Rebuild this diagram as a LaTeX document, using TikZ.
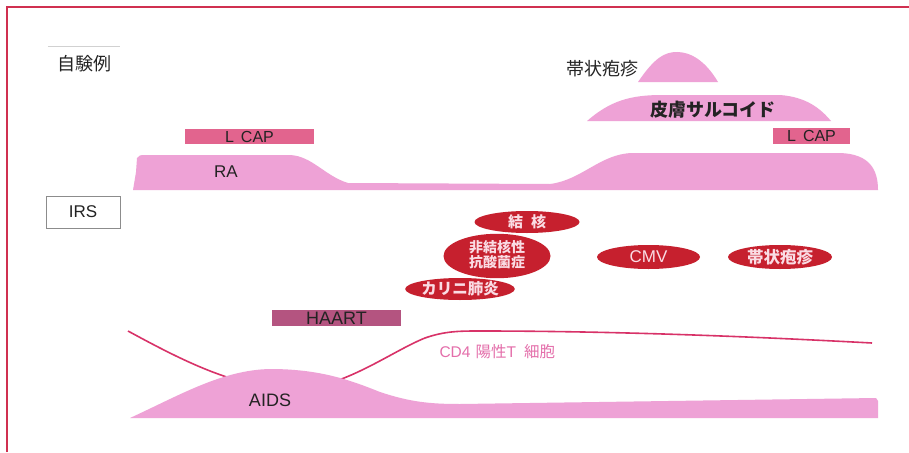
\documentclass[tikz,border=0pt]{standalone}
\usepackage{fontspec}
\setmainfont{Liberation Sans}
\newfontfamily\jp{Noto Sans CJK JP}
\usetikzlibrary{shapes.geometric}
\definecolor{frame}{RGB}{208,48,80}
\definecolor{hump}{RGB}{238,162,214}
\definecolor{capc}{RGB}{226,100,142}
\definecolor{haartc}{RGB}{180,84,128}
\definecolor{ovalc}{RGB}{198,32,46}
\definecolor{ovaltext}{RGB}{250,220,228}
\definecolor{cdline}{RGB}{216,50,104}
\definecolor{cdtext}{RGB}{228,110,170}
\definecolor{ink}{RGB}{35,35,35}
\tikzset{
  fs/.style={font=\fontsize{#1}{#1}\selectfont},
  shapefill/.style={fill=hump, draw=none},
  barbox/.style={rectangle, fill=capc, text=ink, inner sep=0pt, anchor=center},
  oval/.style={ellipse, fill=ovalc, text=ovaltext, inner sep=0pt, align=center},
  labelbox/.style={rectangle, draw=#1, line width=0.6pt, inner sep=0pt, text=ink},
}
\begin{document}
\begin{tikzpicture}[x=1pt,y=-1pt]
\useasboundingbox (0,0) rectangle (909,452);
\fill[white] (0,0) rectangle (909,452);
% frame
\draw[frame, line width=1.2pt] (7,452) -- (7,7) -- (909,7);

% labels on the left
\node[rectangle, minimum width=72pt, minimum height=34pt, inner sep=0pt, text=ink, fs=18] (jiken) at (84,64) {\jp 自験例};
\draw[black!18, line width=0.6pt] (jiken.north west) -- (jiken.north east);
\node[labelbox=black!45, minimum width=74pt, minimum height=32pt, fs=17] (irs) at (83,212) {IRS};

% RA / sarcoid band
\fill[shapefill] (133,190) -- (136,172) -- (137,158) .. controls (139,155) .. (150,155) -- (290,155)
  .. controls (312,156) and (325,176) .. (348,183) -- (550,184)
  .. controls (582,180) and (600,154) .. (632,153) -- (840,153)
  .. controls (870,154) and (878,170) .. (878,190) -- cycle;
\node[fs=17, text=ink] (ra) at (226,172) {RA};

% herpes zoster hump
\fill[shapefill] (638,82) .. controls (655,57) and (665,52) .. (677,52) .. controls (690,52) and (705,60) .. (718,82) -- cycle;
\node[fs=18, text=ink, anchor=east] (hz) at (642,69) {\jp 帯状疱疹};

% skin sarcoid
\fill[shapefill] (587,121) .. controls (610,101) and (630,95) .. (662,95) -- (780,95) .. controls (806,97) and (820,108) .. (831,121) -- cycle;
\node[fs=18, text=ink] (sarc) at (713,110) {\jp\bfseries 皮膚サルコイド};

% L CAP bars
\node[barbox, minimum width=129pt, minimum height=15pt, fs=16] (lcap1) at (249.5,136.5) {L\hspace{7pt}CAP};
\node[barbox, minimum width=77pt, minimum height=16pt, fs=16] (lcap2) at (811.5,136) {L\hspace{7pt}CAP};

% opportunistic infections
\node[oval, minimum width=105pt, minimum height=22pt, fs=15] (tb) at (527,222) {\jp\bfseries 結\hspace{8pt}核};
\node[oval, minimum width=107pt, minimum height=38pt, fs=14] (ntm) at (497,256) {\jp\bfseries\begin{tabular}{@{}c@{}}非結核性\\[-1pt]抗酸菌症\end{tabular}};
\node[oval, minimum width=106pt, minimum height=22pt, fs=15.5] (pcp) at (460,289) {\jp\bfseries カリニ肺炎};
\node[oval, minimum width=103pt, minimum height=24pt, fs=17] (cmv) at (648.5,257) {CMV};
\node[oval, minimum width=104pt, minimum height=24pt, fs=16.5] (hz2) at (780,257) {\jp\bfseries 帯状疱疹};

% HAART
\node[barbox, fill=haartc, minimum width=129pt, minimum height=16pt, fs=18] (haart) at (336.5,318) {HAART};

% CD4 curve
\coordinate (c0) at (128,331);
\coordinate (c1) at (290,389);
\coordinate (c2) at (480,331);
\coordinate (c3) at (872,343);
\draw[cdline, line width=1.6pt] (c0) .. controls (185,362) and (235,387) .. (c1)
  .. controls (340,391) and (390,352) .. (425,338) .. controls (445,331) and (460,331) .. (c2)
  .. controls (620,331) and (760,337) .. (c3);
\node[fs=15.5, text=cdtext, anchor=west] (cd4) at (436,352) {CD4\hspace{5pt}{\jp 陽性}T\hspace{8pt}{\jp 細胞}};

% AIDS hump
\fill[shapefill] (130,418) .. controls (180,395) and (222,370) .. (270,369)
  .. controls (320,369) and (350,380) .. (380,392) .. controls (410,402) and (430,404) .. (460,404)
  -- (876,398) -- (878,401) -- (878,418) -- cycle;
\node[fs=18, text=ink] (aids) at (270,400) {AIDS};
\end{tikzpicture}
\end{document}
